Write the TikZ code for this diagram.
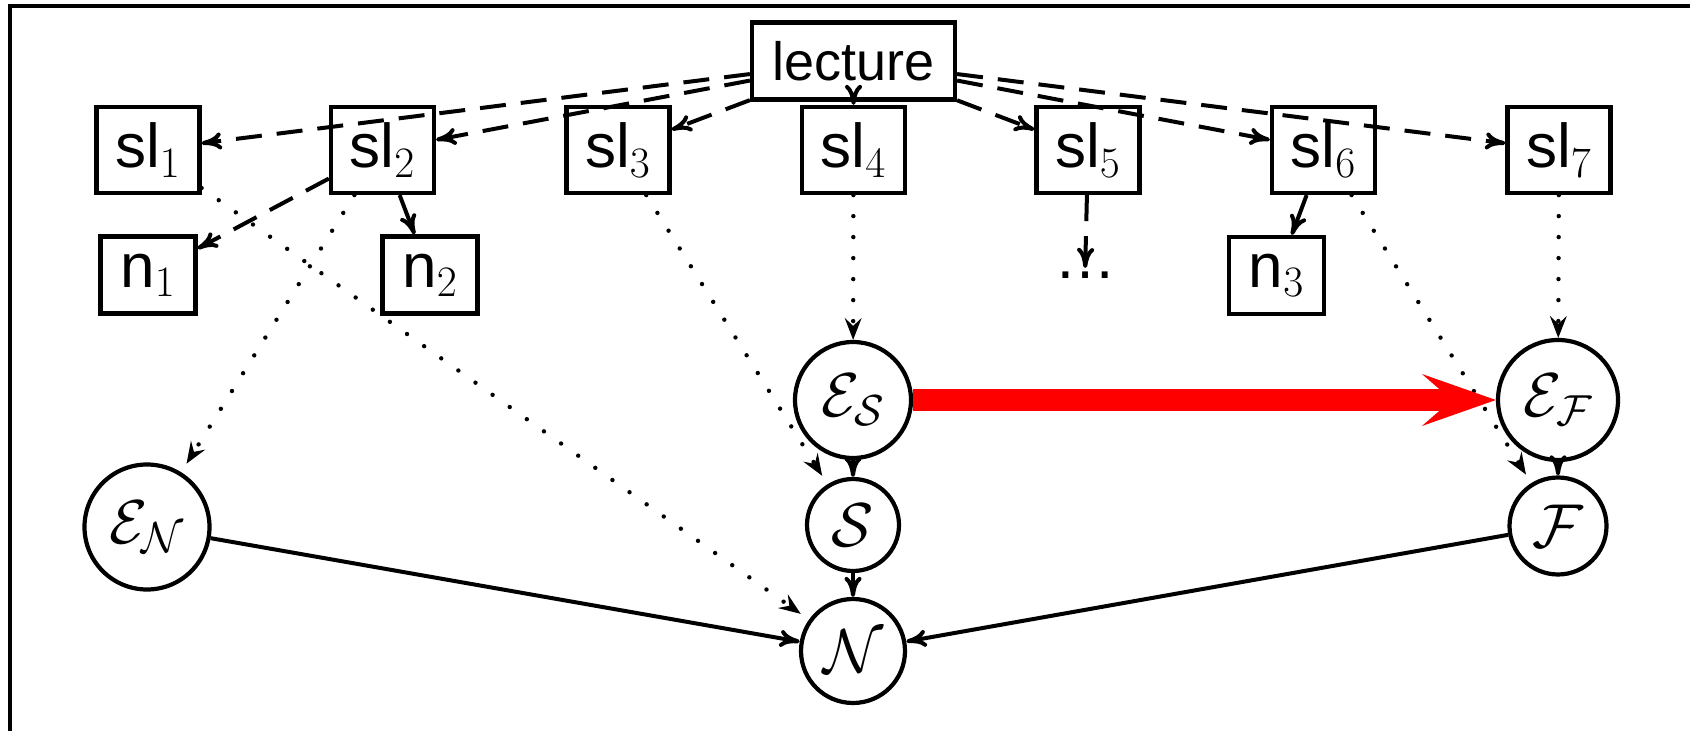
\RequirePackage{fix-cm}
\documentclass[tikz,border=0pt]{standalone}
\usepackage{fontspec}
\setsansfont{Liberation Sans}
\usetikzlibrary{arrows.meta}
\begin{document}
\begin{tikzpicture}[x=0.5pt,y=-0.5pt,
  box/.style={draw,line width=2.1pt,inner sep=0pt,font=\fontsize{31}{36}\selectfont\sffamily},
  slbox/.style={box,minimum width=51.5pt,minimum height=43pt},
  nbox/.style={box,minimum width=47.5pt,minimum height=38.5pt},
  circ/.style={draw,circle,line width=2.1pt,inner sep=0pt,font=\fontsize{31}{36}\selectfont},
  tipa/.style={-{Computer Modern Rightarrow[length=10pt,width=8.5pt]}},
  dsh/.style={line width=2pt,dash pattern=on 13pt off 7.5pt,tipa},
  sld/.style={line width=2pt,tipa},
  dtt/.style={line width=2.2pt,line cap=round,dash pattern=on 0pt off 10.5pt,-{Stealth[length=11pt,width=8.5pt,inset=4pt,line width=0pt]}},
  redarr/.style={draw=red,line width=11pt,-{Stealth[length=37pt,width=26pt,inset=15pt,line width=0pt]}},
]
\useasboundingbox (0,0) rectangle (1690,731);
\draw[line width=2pt] (9.5,745) -- (9.5,6) -- (1700,6);

\node[box,minimum width=101.5pt,minimum height=38.5pt,font=\fontsize{27}{32}\selectfont\sffamily] (lec) at (853.5,61) {lecture};
\node[slbox] (sl1) at (148,150) {sl$_1$};
\node[slbox] (sl2) at (382.5,150) {sl$_2$};
\node[slbox] (sl3) at (618,150) {sl$_3$};
\node[slbox] (sl4) at (853.5,150) {sl$_4$};
\node[slbox] (sl5) at (1088,150) {sl$_5$};
\node[slbox] (sl6) at (1323.5,150) {sl$_6$};
\node[slbox] (sl7) at (1559,150) {sl$_7$};
\node[nbox] (n1) at (148,275) {n$_1$};
\node[nbox] (n2) at (430,275) {n$_2$};
\node[nbox] (n3) at (1276.5,275.5) {n$_3$};
\node[font=\fontsize{31}{36}\selectfont\sffamily,inner sep=2pt,anchor=base] (dd) at (1085,279) {\ldots};

\node[circ,minimum size=62.5pt] (EN) at (147,527) {$\mathcal{E}_{\mathcal{N}}$};
\node[circ,minimum size=58pt] (ES) at (853,400) {$\mathcal{E}_{\mathcal{S}}$};
\node[circ,minimum size=46pt] (S) at (853,525) {$\mathcal{S}$};
\node[circ,minimum size=52pt] (N) at (853,651) {$\mathcal{N}$};
\node[circ,minimum size=60pt] (EF) at (1558,400) {$\mathcal{E}_{\mathcal{F}}$};
\node[circ,minimum size=48.5pt] (F) at (1558,526) {$\mathcal{F}$};

\foreach \i in {1,...,7} {\draw[dsh] (lec) -- (sl\i);}
\draw[dsh] (sl2) -- (n1);
\draw[sld] (sl2) -- (n2);
\draw[sld] (sl6) -- (n3);
\draw[dsh] (sl5) -- (dd);

\draw[dtt,shorten >=5pt] (sl1) -- (N);
\draw[dtt,shorten >=5pt] (sl2) -- (EN);
\draw[dtt,shorten >=5pt] (sl3) -- (S);
\draw[dtt] (sl4) -- (ES);
\draw[dtt,shorten >=5pt] (sl6) -- (F);
\draw[dtt] (sl7) -- (EF);

\draw[sld] (ES) -- (S);
\draw[sld] (S) -- (N);
\draw[sld] (EF) -- (F);
\draw[sld] (EN) -- (N);
\draw[sld] (F) -- (N);
\draw[redarr] (ES) -- (EF);
\end{tikzpicture}
\end{document}
